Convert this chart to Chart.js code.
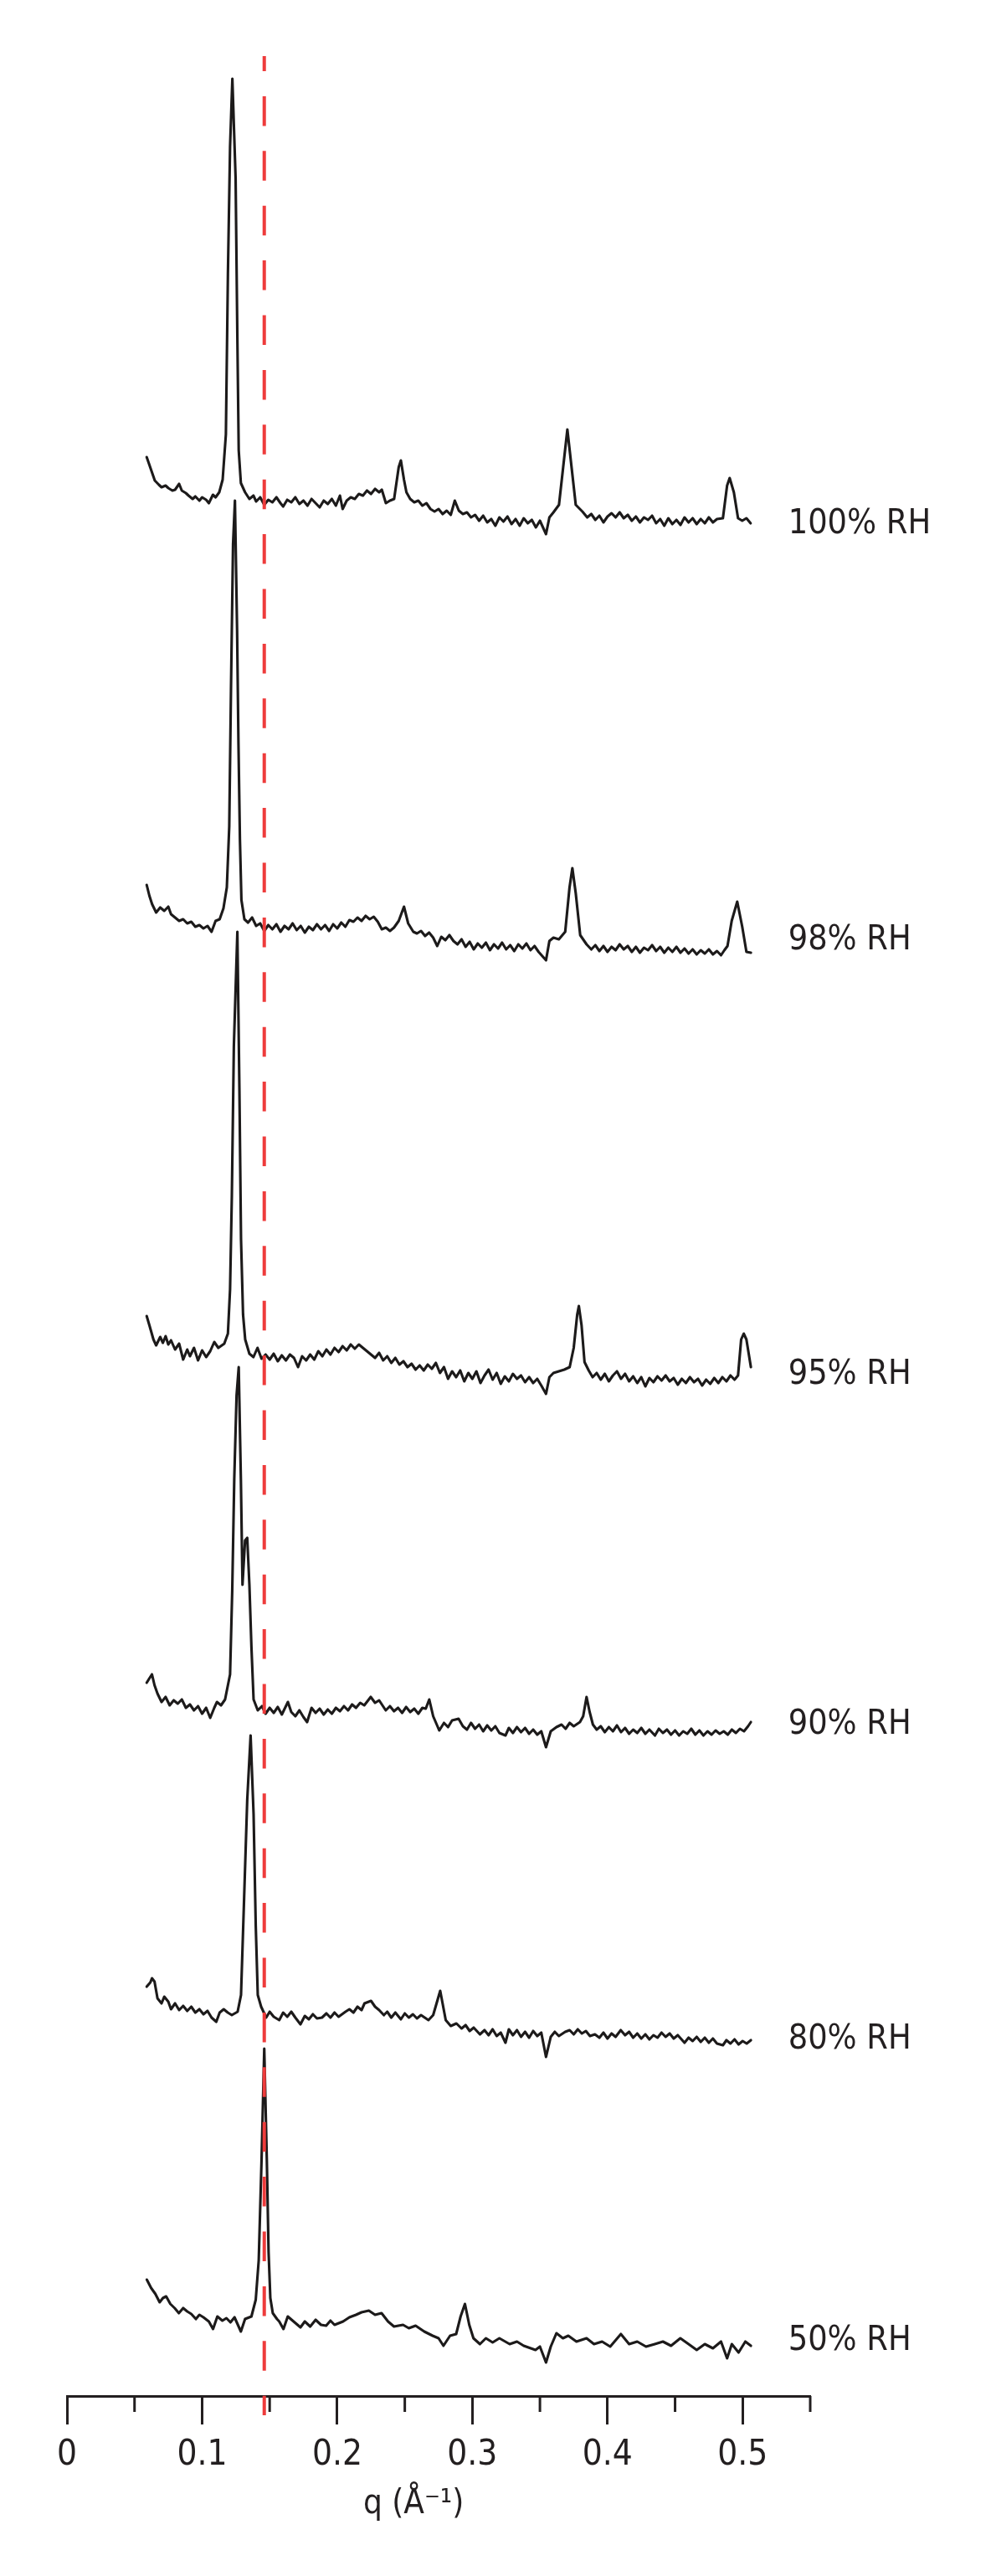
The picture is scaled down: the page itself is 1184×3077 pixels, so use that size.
<!DOCTYPE html>
<html><head><meta charset="utf-8">
<style>html,body{margin:0;padding:0;background:#fff;}#wrap{width:1184px;height:3077px;}</style>
<script src="https://cdn.jsdelivr.net/npm/chart.js@4.4.1/dist/chart.umd.min.js"></script>
</head><body><div id="wrap"><canvas id="c" width="1184" height="3077"></canvas></div>
<script>
// ---- data (q in 1/Å, intensity in arbitrary units relative to each trace baseline) ----
const seriesNames = ['100% RH','98% RH','95% RH','90% RH','80% RH','50% RH'];
const offsets = [2262,1752,1242,817,457,87];
const labelLevels = [-22,-9,-18,-11,-27,-17];
const refQ = 0.146;
const refSpan = [-23, 2795];
const minorTicks = [0.05,0.15,0.25,0.35,0.45,0.55];
const axisTitle = 'q (Å\u207B\u00B9)';

const q100=[0.059,0.062,0.065,0.068,0.070,0.073,0.075,0.078,0.080,0.083,0.085,0.088,0.090,0.093,0.095,0.098,0.100,0.103,0.105,0.108,0.110,0.1127,0.1152,0.1176,0.1191,0.1207,0.1224,0.1248,0.1261,0.1271,0.1287,0.1318,0.135,0.138,0.140,0.143,0.146,0.149,0.152,0.155,0.158,0.160,0.163,0.166,0.169,0.172,0.175,0.178,0.181,0.184,0.187,0.190,0.193,0.196,0.199,0.202,0.204,0.207,0.210,0.213,0.216,0.219,0.222,0.225,0.228,0.231,0.233,0.236,0.239,0.2421,0.2455,0.2471,0.2494,0.2512,0.254,0.257,0.260,0.263,0.266,0.269,0.272,0.275,0.278,0.281,0.284,0.287,0.290,0.293,0.296,0.299,0.302,0.305,0.308,0.311,0.314,0.317,0.320,0.323,0.326,0.329,0.332,0.335,0.338,0.341,0.344,0.347,0.350,0.3545,0.357,0.360,0.3641,0.3672,0.3703,0.3734,0.3765,0.3814,0.385,0.388,0.391,0.394,0.397,0.400,0.403,0.406,0.409,0.412,0.415,0.418,0.421,0.424,0.427,0.430,0.433,0.436,0.439,0.442,0.445,0.448,0.451,0.454,0.457,0.460,0.463,0.466,0.469,0.472,0.475,0.478,0.481,0.4854,0.4885,0.4904,0.4935,0.4966,0.4997,0.5028,0.5059];
const i100=[54,40,26,21,18,20,17,14,15,22,14,11,8,4,7,2,6,3,-1,9,6,12,27,81,272,425,506,387,196,62,23,12,4,8,1,6,-3,3,0,6,-1,-5,3,0,6,-2,2,-4,4,-1,-6,2,-2,4,-4,8,-8,2,6,4,10,8,14,10,16,12,15,-1,2,4,42,50,27,12,4,0,2,-4,-1,-8,-11,-8,-14,-10,-15,2,-10,-14,-12,-18,-15,-22,-16,-24,-20,-28,-18,-23,-17,-26,-20,-28,-19,-25,-21,-30,-22,-38,-18,-12,-3,42,87,42,-3,-11,-18,-14,-21,-16,-24,-17,-13,-18,-12,-19,-15,-22,-17,-24,-18,-21,-16,-25,-20,-28,-19,-26,-21,-27,-18,-24,-19,-26,-20,-25,-18,-24,-20,-19,20,29,12,-19,-22,-19,-25];

const q98=[0.059,0.061,0.063,0.066,0.069,0.072,0.075,0.077,0.080,0.083,0.086,0.089,0.092,0.095,0.098,0.101,0.104,0.107,0.110,0.113,0.1158,0.1183,0.1201,0.1214,0.1229,0.1243,0.1259,0.1269,0.1280,0.1291,0.1313,0.134,0.137,0.140,0.143,0.146,0.149,0.152,0.155,0.158,0.161,0.164,0.167,0.170,0.173,0.176,0.179,0.182,0.185,0.188,0.191,0.194,0.197,0.200,0.203,0.206,0.209,0.212,0.215,0.218,0.221,0.224,0.227,0.230,0.233,0.236,0.239,0.242,0.2455,0.2494,0.2525,0.2563,0.259,0.262,0.265,0.268,0.271,0.274,0.277,0.280,0.283,0.286,0.289,0.292,0.295,0.298,0.301,0.304,0.307,0.310,0.313,0.316,0.319,0.322,0.325,0.328,0.331,0.334,0.337,0.340,0.343,0.346,0.349,0.3545,0.357,0.360,0.364,0.3687,0.3719,0.3740,0.3765,0.3798,0.3845,0.388,0.391,0.394,0.397,0.400,0.403,0.406,0.409,0.412,0.415,0.418,0.421,0.424,0.427,0.430,0.433,0.436,0.439,0.442,0.445,0.448,0.451,0.454,0.457,0.460,0.463,0.466,0.469,0.472,0.475,0.478,0.481,0.484,0.4865,0.4888,0.4919,0.4960,0.4997,0.5028,0.5061];
const i98=[53,40,30,20,26,22,27,18,14,10,12,7,9,3,5,1,4,-3,10,12,25,50,123,290,460,512,357,223,107,35,12,8,14,4,7,-2,5,0,6,-3,4,0,7,-1,4,-4,3,-1,6,0,5,-2,6,1,8,3,11,9,14,10,16,12,15,9,0,2,-2,2,10,27,7,-3,-5,-2,-8,-4,-10,-20,-9,-13,-7,-14,-18,-12,-21,-15,-24,-17,-22,-16,-25,-18,-23,-16,-24,-19,-26,-18,-23,-17,-25,-20,-27,-37,-14,-10,-12,-3,50,73,43,-7,-18,-24,-19,-26,-20,-27,-21,-25,-18,-24,-20,-27,-21,-28,-22,-25,-19,-26,-21,-28,-22,-27,-21,-28,-23,-29,-24,-30,-25,-29,-24,-30,-26,-31,-25,-20,10,33,3,-27,-28];

const q95=[0.059,0.061,0.064,0.066,0.069,0.071,0.073,0.075,0.077,0.080,0.083,0.086,0.089,0.091,0.094,0.097,0.100,0.103,0.106,0.109,0.112,0.1164,0.1191,0.1207,0.1220,0.1235,0.1261,0.1276,0.1288,0.1303,0.1319,0.1350,0.138,0.141,0.144,0.147,0.150,0.153,0.156,0.159,0.162,0.165,0.168,0.171,0.174,0.177,0.180,0.183,0.186,0.189,0.192,0.195,0.198,0.201,0.204,0.207,0.210,0.213,0.216,0.219,0.222,0.225,0.228,0.231,0.234,0.237,0.240,0.243,0.246,0.249,0.252,0.255,0.258,0.261,0.264,0.267,0.270,0.273,0.276,0.279,0.282,0.285,0.288,0.291,0.294,0.297,0.300,0.303,0.306,0.309,0.312,0.315,0.318,0.321,0.324,0.327,0.330,0.333,0.336,0.339,0.342,0.345,0.348,0.351,0.3545,0.357,0.360,0.364,0.368,0.372,0.3750,0.3776,0.3788,0.3808,0.3830,0.3861,0.389,0.392,0.395,0.398,0.401,0.404,0.407,0.410,0.413,0.416,0.419,0.422,0.425,0.428,0.431,0.434,0.437,0.440,0.443,0.446,0.449,0.452,0.455,0.458,0.461,0.464,0.467,0.470,0.473,0.476,0.479,0.482,0.485,0.488,0.491,0.494,0.4966,0.4989,0.5008,0.5028,0.5061];
const i95=[48,37,20,13,23,16,24,14,19,8,15,-4,8,0,10,-5,7,-1,6,17,10,15,27,80,190,370,507,320,140,50,20,3,-1,10,-3,2,-4,3,-6,1,-5,2,-2,-13,0,-5,2,-4,6,0,8,2,10,5,12,7,14,9,14,10,6,2,-2,4,-5,0,-8,-2,-10,-6,-13,-9,-16,-11,-17,-10,-15,-8,-20,-13,-27,-18,-25,-17,-30,-20,-27,-18,-32,-23,-16,-28,-20,-33,-24,-30,-21,-27,-23,-31,-25,-32,-27,-35,-45,-25,-20,-18,-16,-13,10,50,60,37,-7,-17,-25,-20,-28,-21,-30,-23,-18,-27,-21,-30,-24,-32,-25,-36,-26,-31,-24,-29,-23,-30,-26,-34,-27,-32,-25,-31,-27,-35,-28,-33,-26,-32,-25,-30,-23,-28,-23,20,27,20,-13];

const q90=[0.059,0.0617,0.0629,0.0648,0.067,0.070,0.073,0.076,0.079,0.082,0.085,0.088,0.091,0.094,0.097,0.100,0.103,0.106,0.109,0.111,0.114,0.117,0.1207,0.1223,0.1238,0.1255,0.1271,0.1287,0.1299,0.1318,0.1334,0.1350,0.1365,0.1381,0.1412,0.1443,0.147,0.150,0.153,0.156,0.159,0.1635,0.166,0.169,0.172,0.175,0.1777,0.181,0.184,0.187,0.190,0.193,0.196,0.199,0.202,0.205,0.208,0.211,0.2139,0.217,0.220,0.2248,0.228,0.231,0.2359,0.239,0.242,0.245,0.248,0.251,0.254,0.257,0.260,0.263,0.2655,0.2681,0.271,0.2755,0.279,0.282,0.285,0.2898,0.293,0.296,0.299,0.302,0.305,0.308,0.311,0.314,0.317,0.320,0.3245,0.327,0.330,0.333,0.336,0.339,0.342,0.345,0.348,0.351,0.3545,0.358,0.3622,0.366,0.369,0.372,0.375,0.3796,0.382,0.3845,0.3868,0.3892,0.392,0.395,0.398,0.401,0.404,0.407,0.410,0.413,0.416,0.419,0.422,0.425,0.428,0.431,0.4351,0.438,0.441,0.444,0.447,0.450,0.453,0.456,0.459,0.462,0.465,0.468,0.471,0.474,0.477,0.480,0.483,0.486,0.489,0.492,0.495,0.498,0.501,0.504,0.5061];
const i90=[35,42,45,32,22,12,18,8,14,10,15,5,9,2,7,-2,5,-7,5,12,8,15,45,145,278,378,412,278,152,205,208,152,78,15,2,7,-2,5,-1,6,-3,12,0,-5,2,-6,-12,5,-1,4,-3,3,-2,5,1,7,2,9,5,11,8,18,11,14,2,7,1,5,-1,6,0,4,-2,5,4,15,-5,-22,-13,-18,-10,-8,-17,-21,-13,-20,-15,-23,-16,-22,-17,-25,-28,-19,-25,-18,-24,-19,-26,-21,-27,-23,-42,-23,-18,-15,-20,-13,-17,-12,-5,18,0,-15,-21,-17,-24,-18,-23,-16,-24,-19,-26,-21,-25,-19,-26,-21,-28,-20,-25,-21,-27,-22,-28,-23,-26,-20,-27,-22,-28,-23,-27,-22,-26,-23,-27,-21,-25,-20,-23,-17,-12];

const q80=[0.059,0.0617,0.0629,0.0648,0.067,0.070,0.072,0.075,0.077,0.080,0.083,0.086,0.089,0.092,0.095,0.098,0.101,0.104,0.107,0.1105,0.113,0.116,0.119,0.122,0.1263,0.1288,0.1311,0.1334,0.1359,0.1381,0.1397,0.1412,0.1437,0.1474,0.150,0.153,0.1571,0.160,0.163,0.166,0.169,0.1728,0.176,0.179,0.182,0.185,0.1887,0.192,0.195,0.198,0.201,0.2061,0.209,0.212,0.215,0.218,0.2202,0.2250,0.228,0.231,0.2345,0.237,0.240,0.243,0.2471,0.250,0.253,0.256,0.259,0.262,0.2675,0.271,0.2762,0.2803,0.284,0.2882,0.292,0.295,0.298,0.301,0.3056,0.309,0.312,0.315,0.318,0.321,0.3245,0.327,0.330,0.333,0.336,0.339,0.342,0.345,0.348,0.351,0.3545,0.358,0.361,0.364,0.3687,0.372,0.375,0.378,0.381,0.384,0.387,0.3907,0.394,0.397,0.400,0.403,0.406,0.4098,0.413,0.416,0.419,0.422,0.425,0.428,0.431,0.434,0.437,0.440,0.443,0.446,0.449,0.452,0.4570,0.460,0.463,0.466,0.469,0.472,0.475,0.478,0.481,0.4854,0.488,0.491,0.494,0.497,0.500,0.503,0.5061];
const i80=[32,37,42,38,18,12,20,14,5,12,4,9,3,8,1,5,-1,3,-5,-10,1,5,1,-2,2,22,138,255,332,238,105,22,8,-5,2,-4,-8,1,-4,2,-5,-13,-3,-7,-1,-6,-5,0,-5,1,-4,2,5,1,8,4,12,15,8,4,-2,2,-5,1,-7,0,-5,-1,-6,-2,-8,-2,27,-8,-15,-12,-18,-14,-21,-17,-25,-20,-26,-19,-27,-23,-35,-19,-26,-20,-28,-22,-29,-21,-27,-23,-52,-28,-22,-27,-22,-20,-25,-19,-24,-21,-27,-25,-29,-23,-30,-24,-28,-20,-26,-22,-29,-24,-30,-25,-31,-26,-29,-23,-28,-24,-30,-26,-35,-29,-33,-28,-34,-29,-35,-30,-36,-38,-32,-36,-31,-37,-33,-36,-32];

const q50=[0.0591,0.0623,0.0654,0.0686,0.071,0.0734,0.0765,0.0797,0.0828,0.086,0.089,0.092,0.0954,0.098,0.101,0.1050,0.1081,0.1113,0.115,0.118,0.121,0.124,0.1287,0.1318,0.1365,0.1397,0.1419,0.1440,0.1460,0.1479,0.1492,0.1505,0.1523,0.1554,0.1571,0.1602,0.1634,0.167,0.1728,0.176,0.180,0.184,0.188,0.1918,0.195,0.198,0.2043,0.209,0.2139,0.218,0.2234,0.228,0.2328,0.2376,0.242,0.2487,0.253,0.258,0.2644,0.2706,0.275,0.2786,0.2835,0.288,0.2913,0.2945,0.2977,0.3008,0.3056,0.310,0.315,0.320,0.3276,0.333,0.338,0.3467,0.350,0.3545,0.358,0.3622,0.367,0.371,0.377,0.3845,0.390,0.396,0.402,0.4099,0.416,0.422,0.4285,0.435,0.441,0.447,0.4539,0.460,0.466,0.472,0.478,0.484,0.4885,0.492,0.497,0.502,0.5061];
const i50=[52,42,35,25,30,32,23,18,12,18,14,11,5,10,7,2,-7,8,3,6,1,7,-10,5,8,28,75,195,328,195,85,30,12,5,2,-7,8,3,-5,2,-4,4,-2,-3,3,-2,2,7,10,13,15,10,12,2,-4,-2,-6,-3,-10,-15,-18,-27,-15,-13,8,23,-2,-18,-25,-18,-23,-18,-25,-22,-27,-32,-28,-47,-28,-12,-18,-15,-22,-18,-25,-22,-28,-13,-25,-22,-28,-25,-22,-27,-18,-25,-32,-25,-30,-22,-42,-25,-35,-22,-27];

const traceQ = [q100,q98,q95,q90,q80,q50];
const traceI = [i100,i98,i95,i90,i80,i50];

// ---- styling ----
const INK = '#231f20';
const RED = '#ee3b3b';
const FONT = '"DejaVu Sans Condensed", "Liberation Sans Narrow", "DejaVu Sans", sans-serif';

const datasets = [{
  label: 'reference',
  data: [{x: refQ, y: refSpan[1]}, {x: refQ, y: refSpan[0]}],
  borderColor: RED, borderWidth: 4, borderDash: [35.5, 29.9], borderDashOffset: 17.5,
  pointRadius: 0, clip: false, borderCapStyle: 'butt'
}];
seriesNames.forEach((name, k) => {
  datasets.push({
    label: name,
    data: traceQ[k].map((q, i) => ({x: q, y: traceI[k][i] + offsets[k]})),
    borderColor: '#1c1a1a', borderWidth: 3.1, pointRadius: 0, tension: 0,
    borderJoinStyle: 'round', borderCapStyle: 'round', clip: false
  });
});

const overlay = {
  id: 'overlay',
  afterDraw(chart) {
    const {ctx, chartArea} = chart;
    const xs = chart.scales.x, ys = chart.scales.y;
    ctx.save();
    ctx.strokeStyle = INK; ctx.lineWidth = 3;
    minorTicks.forEach(v => {
      const px = xs.getPixelForValue(v);
      ctx.beginPath(); ctx.moveTo(px, chartArea.bottom); ctx.lineTo(px, chartArea.bottom + 19); ctx.stroke();
    });
    ctx.fillStyle = INK;
    ctx.font = '41px ' + FONT;
    ctx.textAlign = 'left'; ctx.textBaseline = 'alphabetic';
    seriesNames.forEach((name, k) => {
      ctx.fillText(name, xs.getPixelForValue(0.5337), ys.getPixelForValue(offsets[k] + labelLevels[k]) + 15);
    });
    ctx.font = '40px ' + FONT;
    ctx.textAlign = 'center';
    ctx.fillText(axisTitle, xs.getPixelForValue(0.2565), chartArea.bottom + 140);
    ctx.restore();
  }
};

new Chart(document.getElementById('c'), {
  type: 'line',
  data: {datasets},
  options: {
    responsive: false, animation: false, devicePixelRatio: 1,
    layout: {padding: {top: 40, left: 80, right: 216, bottom: 65}},
    plugins: {legend: {display: false}, tooltip: {enabled: false}, title: {display: false}},
    scales: {
      x: {
        type: 'linear', position: 'bottom', min: 0, max: 0.55,
        border: {display: true, color: INK, width: 3},
        grid: {display: true, drawOnChartArea: false, drawTicks: true, tickLength: 34, tickWidth: 3, tickColor: INK},
        ticks: {stepSize: 0.1, includeBounds: false, autoSkip: false, maxRotation: 0, color: INK, padding: 12,
                font: {family: FONT, size: 42},
                callback: v => String(Math.round(v * 100) / 100)},
        afterFit: s => { s.height = 150; s.paddingLeft = 0; s.paddingRight = 0; }
      },
      y: {type: 'linear', display: false, min: 0, max: 2822}
    }
  },
  plugins: [overlay]
});
</script>
</body></html>
